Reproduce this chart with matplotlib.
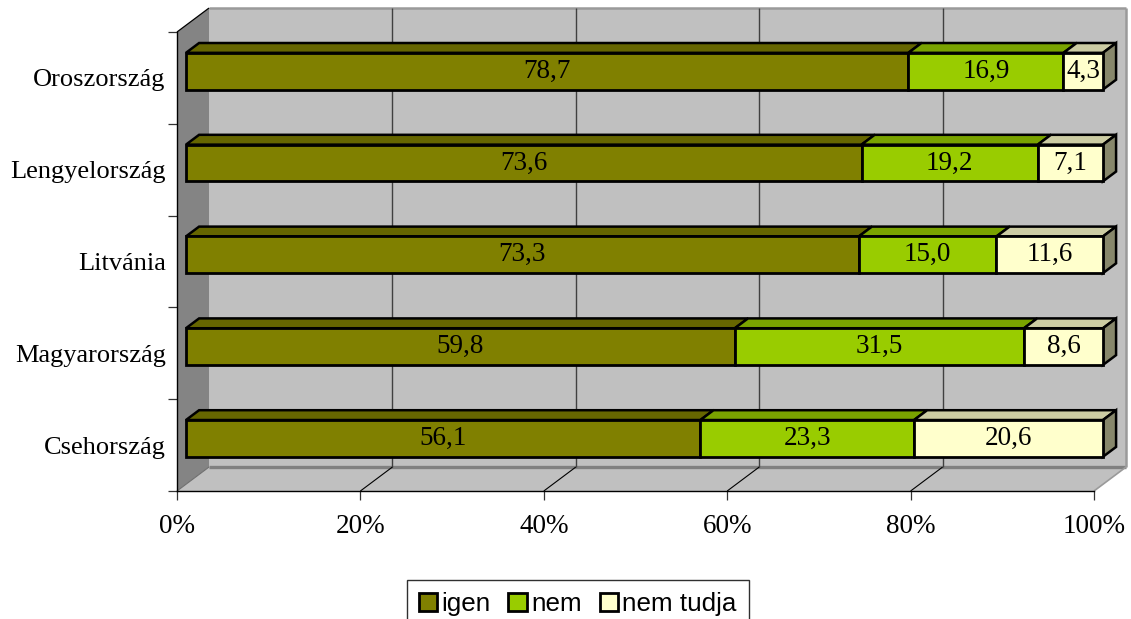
import matplotlib
matplotlib.use("Agg")
import matplotlib.pyplot as plt
from matplotlib.patches import Patch

# Bottom to top, as the category axis runs
countries = ["Csehország", "Magyarország", "Litvánia", "Lengyelország", "Oroszország"]
series_names = ["igen", "nem", "nem tudja"]
igen = [56.1, 59.8, 73.3, 73.6, 78.7]
nem = [23.3, 31.5, 15.0, 19.2, 16.9]
nem_tudja = [20.6, 8.6, 11.6, 7.1, 4.3]
x_ticks = [0, 20, 40, 60, 80, 100]

FRONT = ["#808000", "#99CC00", "#FFFFCC"]
TOP = ["#666600", "#7AA300", "#CCCCA3"]
SIDE = ["#4D4D00", "#5C7A00", "#87876B"]
WALL = "#C0C0C0"
SIDE_WALL = "#848484"
EDGE = "#808080"
SOFT_EDGE = "#9A9A9A"

# Oblique offset of the back wall, in axis units (32 px and 24 px on the page)
DEPTH_X = 3.49
DEPTH_Y = 0.261
BAR_NEAR = 0.28
BAR_FAR = 0.69
BAR_HEIGHT = 0.40
W, H = 1131, 619


def proj(pct, cat, depth=0.0):
    return pct + depth * DEPTH_X, cat + depth * DEPTH_Y


def face(ax, points, color, edge="none", lw=0, z=1):
    xs, ys = zip(*[proj(*p) for p in points])
    ax.fill(xs, ys, facecolor=color, edgecolor=edge, linewidth=lw,
            zorder=z, clip_on=False, joinstyle="miter")


def line(ax, a, b, color="black", lw=0.8, z=2):
    xs, ys = zip(proj(*a), proj(*b))
    ax.plot(xs, ys, color=color, linewidth=lw, zorder=z, clip_on=False,
            solid_capstyle="butt")


plt.rcParams["font.family"] = ["Liberation Serif", "DejaVu Serif"]
fig = plt.figure(figsize=(W / 100, H / 100), dpi=100)
ax = fig.add_axes([177 / W, 1 - 491 / H, 917 / W, 459 / H])
ax.set_xlim(0, 100)
ax.set_ylim(0, 5)

# Walls and floor
face(ax, [(0, 0, 1), (100, 0, 1), (100, 5, 1), (0, 5, 1)], WALL)
face(ax, [(0, 0, 0), (0, 0, 1), (0, 5, 1), (0, 5, 0)], SIDE_WALL)
face(ax, [(0, 0, 0), (100, 0, 0), (100, 0, 1), (0, 0, 1)], WALL)
line(ax, (0, 0, 1), (100, 0, 1), EDGE, 2.4, 1.5)
line(ax, (100, 0, 0), (100, 0, 1), SOFT_EDGE, 1.2, 1.5)
line(ax, (100, 0, 1), (100, 5, 1), SOFT_EDGE, 1.8, 1.5)
line(ax, (0, 5, 1), (100, 5, 1), SOFT_EDGE, 1.8, 1.5)
line(ax, (0, 0, 0), (0, 0, 1), "#6E6E6E", 0.8, 1.5)
line(ax, (0, 5, 0), (0, 5, 1), "black", 0.9, 1.5)

# Gridlines on the back wall and across the floor
for t in x_ticks[1:-1]:
    line(ax, (t, 0, 1), (t, 5, 1), "#404040", 1.0)
    line(ax, (t, 0, 0), (t, 0, 1), "black", 0.8)

# Stacked bars, normalised to 100 % like the original
for i, country in enumerate(countries):
    vals = [igen[i], nem[i], nem_tudja[i]]
    total = sum(vals)
    lo = i + 0.5 - BAR_HEIGHT / 2
    hi = i + 0.5 + BAR_HEIGHT / 2
    start = 0.0
    for j, v in enumerate(vals):
        end = start + v / total * 100
        face(ax, [(start, lo, BAR_NEAR), (end, lo, BAR_NEAR), (end, hi, BAR_NEAR), (start, hi, BAR_NEAR)],
             FRONT[j], "black", 2.0, 4)
        face(ax, [(start, hi, BAR_NEAR), (end, hi, BAR_NEAR), (end, hi, BAR_FAR), (start, hi, BAR_FAR)],
             TOP[j], "black", 1.8, 3)
        cx, cy = proj((start + end) / 2, i + 0.5, BAR_NEAR)
        ax.text(cx, cy, f"{v:.1f}".replace(".", ","), ha="center", va="center",
                fontsize=19.5, color="black", zorder=6)
        start = end
    face(ax, [(100, lo, BAR_NEAR), (100, lo, BAR_FAR), (100, hi, BAR_FAR), (100, hi, BAR_NEAR)],
         SIDE[2], "black", 1.8, 3)

# Real axes for the front edges, ticks and their labels
for name in ["top", "right"]:
    ax.spines[name].set_visible(False)
for name in ["left", "bottom"]:
    ax.spines[name].set_linewidth(1.0)
    ax.spines[name].set_zorder(5)
ax.patch.set_visible(False)
ax.set_xticks(x_ticks)
ax.set_xticklabels([f"{t}%" for t in x_ticks])
ax.set_yticks(range(6))
ax.set_yticklabels([])
ax.set_yticks([i + 0.5 for i in range(5)], minor=True)
ax.set_yticklabels(countries, minor=True)
ax.tick_params(axis="both", which="major", length=6.5, width=0.9, color="#333333",
               labelsize=19.5, direction="out")
ax.tick_params(axis="x", which="major", pad=10)
ax.tick_params(axis="y", which="minor", length=0, labelsize=19, pad=8.2)

# Legend box runs off the bottom of the image
handles = [Patch(facecolor=c, edgecolor="black", linewidth=2.0, label=n)
           for c, n in zip(FRONT, series_names)]
leg = fig.legend(handles=handles, ncol=3, loc="upper left",
                 bbox_to_anchor=(407 / W, 1 - 580 / H), bbox_transform=fig.transFigure,
                 frameon=True, fancybox=False, edgecolor="#303030", framealpha=1,
                 prop={"family": "Liberation Sans", "size": 18.7},
                 handlelength=0.7, handleheight=0.7, handletextpad=0.18,
                 columnspacing=0.68, borderaxespad=0, borderpad=0.45)
leg.get_frame().set_linewidth(1.0)

fig.savefig("out.png", dpi=100)
